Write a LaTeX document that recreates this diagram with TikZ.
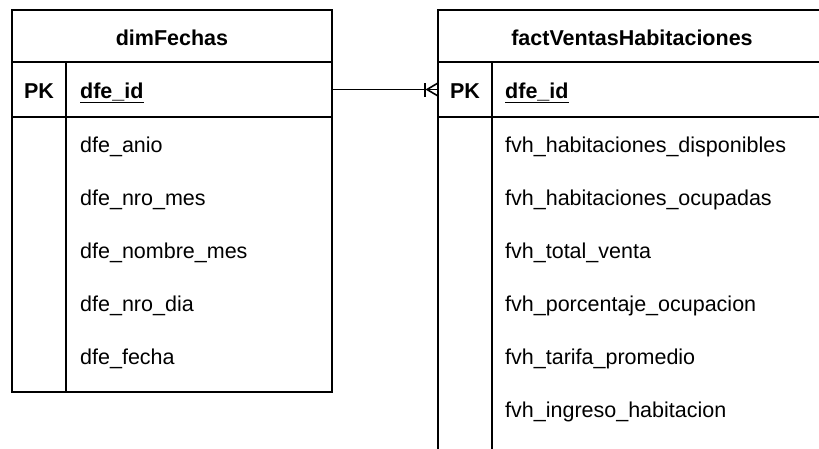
\documentclass[tikz,border=0pt]{standalone}
\usepackage{fontspec}
\setmainfont{Liberation Sans}
\begin{document}
\begin{tikzpicture}[x=1pt,y=-1pt,
  tbl/.style={draw=black, line width=1.6pt, inner sep=0pt, outer sep=0pt, anchor=north west},
  title/.style={font=\fontsize{21.5}{25}\selectfont\bfseries, anchor=base, inner sep=0pt},
  keytag/.style={font=\fontsize{21.5}{25}\selectfont\bfseries, anchor=base, inner sep=0pt},
  keyname/.style={font=\fontsize{21.5}{25}\selectfont\bfseries, anchor=base west, inner sep=0pt},
  field/.style={font=\fontsize{21.5}{25}\selectfont, anchor=base west, inner sep=0pt},
  sep/.style={draw=black, line width=1.6pt},
  rel/.style={draw=black, line width=1.6pt}
]
\clip (0,0) rectangle (819,448);
\fill[white] (0,0) rectangle (819,448);

% ---- dimFechas ----
\node[tbl, minimum width=320pt, minimum height=52pt] (dimHead) at (12,10) {};
\node[tbl, minimum width=320pt, minimum height=55pt] (dimPK) at (12,62) {};
\node[tbl, minimum width=320pt, minimum height=275pt] (dimBody) at (12,117) {};
\draw[sep] ([xshift=54pt]dimPK.north west) -- ([xshift=54pt]dimBody.south west);

\node[title] (dimTitle) at (172,45) {dimFechas};
\node[keytag] (dimKeyTag) at (39,98) {PK};
\node[keyname] (dimKey) at (80,98) {\underline{dfe\_id}};
\node[field] (dimF1) at (80,152) {dfe\_anio};
\node[field] (dimF2) at (80,205) {dfe\_nro\_mes};
\node[field] (dimF3) at (80,258) {dfe\_nombre\_mes};
\node[field] (dimF4) at (80,311) {dfe\_nro\_dia};
\node[field] (dimF5) at (80,364) {dfe\_fecha};

% ---- factVentasHabitaciones ----
\node[tbl, minimum width=388pt, minimum height=52pt] (factHead) at (438,10) {};
\node[tbl, minimum width=388pt, minimum height=55pt] (factPK) at (438,62) {};
\node[tbl, minimum width=388pt, minimum height=400pt] (factBody) at (438,117) {};
\draw[sep] ([xshift=54pt]factPK.north west) -- ([xshift=54pt]factBody.south west);

\node[title] (factTitle) at (632,45) {factVentasHabitaciones};
\node[keytag] (factKeyTag) at (465,98) {PK};
\node[keyname] (factKey) at (505,98) {\underline{dfe\_id}};
\node[field] (factF1) at (505,152) {fvh\_habitaciones\_disponibles};
\node[field] (factF2) at (505,205) {fvh\_habitaciones\_ocupadas};
\node[field] (factF3) at (505,258) {fvh\_total\_venta};
\node[field] (factF4) at (505,311) {fvh\_porcentaje\_ocupacion};
\node[field] (factF5) at (505,364) {fvh\_tarifa\_promedio};
\node[field] (factF6) at (505,417) {fvh\_ingreso\_habitacion};

% ---- relationship: one (dimFechas) to many (factVentasHabitaciones) ----
\draw[rel] (dimPK.east) -- (factPK.west);
\draw[rel] ([shift={(-13pt,-7pt)}]factPK.west) -- ([shift={(-13pt,7pt)}]factPK.west);
\draw[rel] ([shift={(0pt,-6.5pt)}]factPK.west) -- ([shift={(-11pt,0pt)}]factPK.west) -- ([shift={(0pt,6.5pt)}]factPK.west);
\end{tikzpicture}
\end{document}
